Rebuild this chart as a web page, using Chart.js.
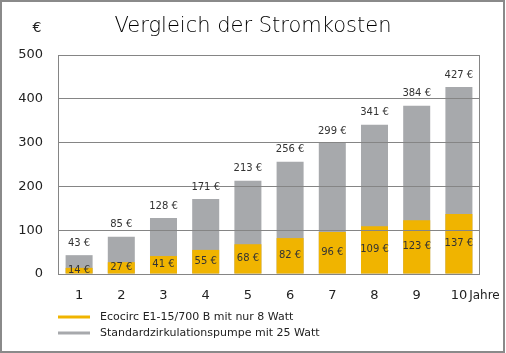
<!DOCTYPE html>
<html>
<head>
<meta charset="utf-8">
<script src="https://cdn.jsdelivr.net/npm/chart.js@4"></script>
<style>
  body { margin: 0; background: #fff; }
  #wrap { width: 506px; height: 353px; }
</style>
</head>
<body>
<div id="wrap"><canvas id="chart" width="506" height="353"></canvas></div>
<script>
const years = ['1', '2', '3', '4', '5', '6', '7', '8', '9', '10'];
const ecocirc = [14, 27, 41, 55, 68, 82, 96, 109, 123, 137];
const standard = [43, 85, 128, 171, 213, 256, 299, 341, 384, 427];
const seriesNames = ['Ecocirc E1-15/700 B mit nur 8 Watt', 'Standardzirkulationspumpe mit 25 Watt'];
const yTicks = [0, 100, 200, 300, 400, 500];

const FONT = "'DejaVu Sans', sans-serif";
const YELLOW = '#f0b400';
const GREY = '#a7a9ac';
const LINE = '#858585';

// labels, title, legend and frame drawn on the canvas
const extras = {
  id: 'extras',
  afterDraw(chart) {
    const ctx = chart.ctx;
    const area = chart.chartArea;
    ctx.save();

    // plot border
    ctx.strokeStyle = LINE;
    ctx.lineWidth = 1;
    ctx.strokeRect(area.left + 0.5, area.top + 0.5, area.right - area.left - 1, area.bottom - area.top);

    // outer frame
    ctx.strokeStyle = '#8a8a8a';
    ctx.lineWidth = 2;
    ctx.strokeRect(1, 1, 503, 351);

    // value labels
    ctx.fillStyle = '#333';
    ctx.font = '10px ' + FONT;
    ctx.textAlign = 'center';
    ctx.textBaseline = 'middle';
    chart.getDatasetMeta(1).data.forEach((bar, i) => {
      ctx.fillText(standard[i] + ' €', bar.x, bar.y - 12);
    });
    chart.getDatasetMeta(0).data.forEach((bar, i) => {
      ctx.fillText(ecocirc[i] + ' €', bar.x, (bar.y + bar.base) / 2);
    });

    // title and unit
    ctx.fillStyle = '#000';
    ctx.font = '200 21px ' + FONT;
    ctx.fillText('Vergleich der Stromkosten', 253, 27);
    ctx.fillStyle = '#222';
    ctx.font = '14px ' + FONT;
    ctx.fillText('€', 37, 28);

    // "Jahre" after the last tick
    const xs = chart.scales.x;
    const lastX = xs.getPixelForTick(years.length - 1);
    ctx.font = '13px ' + FONT;
    const w = ctx.measureText(years[years.length - 1]).width;
    ctx.font = '12px ' + FONT;
    ctx.textAlign = 'left';
    ctx.fillText('Jahre', lastX + w / 2 + 2, 296);

    // legend
    const colors = [YELLOW, GREY];
    ctx.font = '11px ' + FONT;
    seriesNames.forEach((name, i) => {
      const y = 317 + i * 16;
      ctx.strokeStyle = colors[i];
      ctx.lineWidth = 3;
      ctx.beginPath();
      ctx.moveTo(58, y);
      ctx.lineTo(90, y);
      ctx.stroke();
      ctx.fillStyle = '#222';
      ctx.fillText(name, 100, y);
    });

    ctx.restore();
  }
};

new Chart(document.getElementById('chart'), {
  type: 'bar',
  data: {
    labels: years,
    datasets: [
      { label: seriesNames[0], data: ecocirc, backgroundColor: YELLOW },
      { label: seriesNames[1], data: standard, backgroundColor: GREY }
    ]
  },
  options: {
    responsive: false,
    animation: false,
    barPercentage: 0.64,
    categoryPercentage: 1,
    layout: { padding: { top: 55, right: 26, bottom: 0, left: 0 } },
    plugins: { legend: { display: false }, tooltip: { enabled: false } },
    scales: {
      x: {
        stacked: true,
        grid: { display: false, drawTicks: false },
        border: { display: false },
        ticks: { color: '#222', font: { family: FONT, size: 13 }, padding: 14 },
        afterFit: s => { s.height = 79; }
      },
      y: {
        stacked: false,
        min: 0,
        max: 500,
        afterBuildTicks: s => { s.ticks = yTicks.map(v => ({ value: v })); },
        grid: { color: LINE, drawTicks: false, z: 1 },
        border: { display: false },
        ticks: { color: '#222', font: { family: FONT, size: 13 }, padding: 15 },
        afterFit: s => { s.width = 58; }
      }
    }
  },
  plugins: [extras]
});
</script>
</body>
</html>
